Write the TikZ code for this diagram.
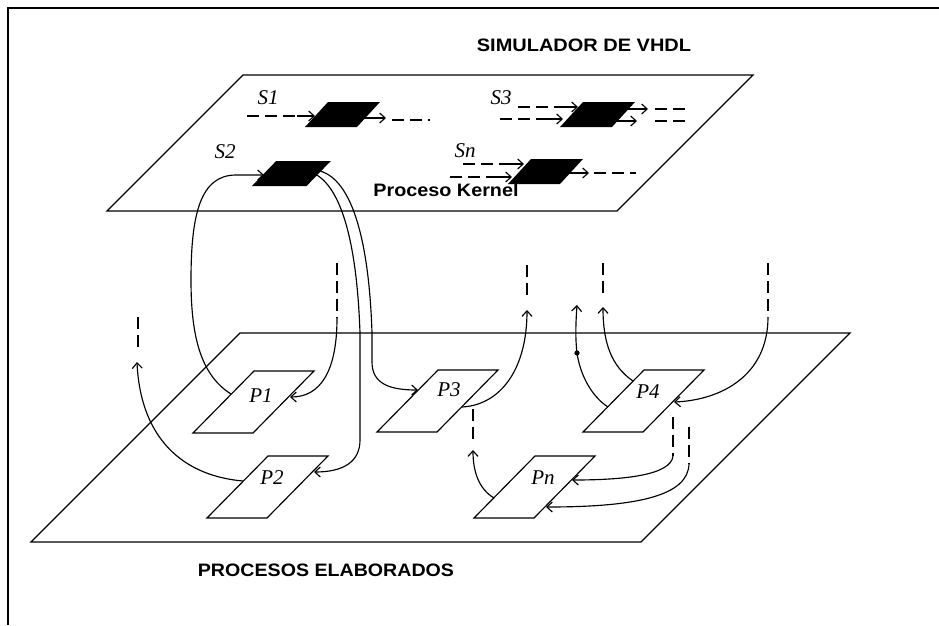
\documentclass[tikz,border=0pt]{standalone}
\usepackage{fontspec}
\setmainfont{Liberation Serif}
\newfontfamily\hel{Liberation Sans}
\usetikzlibrary{arrows.meta}
\begin{document}
\begin{tikzpicture}[x=1pt,y=-1pt,line width=1.15pt,line join=miter,
  >={Straight Barb[length=5.5pt,width=10pt]},
  dsh/.style={dash pattern=on 12pt off 6pt},
  lbl/.style={font=\fontsize{21}{21}\selectfont\itshape,inner sep=0pt},
  ttl/.style={font=\hel\bfseries\fontsize{18}{18}\selectfont,inner sep=0pt},
  plane/.style={line width=1.3pt},
  blkp/.pic={\fill (0,0) -- (52,0) -- (75,-25) -- (23,-25) -- cycle;},
  pbox/.pic={\draw (0,0) -- (60,0) -- (121,-62) -- (61,-62) -- cycle;}]
\useasboundingbox (0,0) rectangle (939,625);
% frame
\draw[line width=2pt] (8,625) -- (8,8) -- (939,8);
% titles
\node[ttl] (sim) at (584,45) {\scalebox{1.11}[1]{SIMULADOR DE VHDL}};
\node[ttl] (proc) at (326,570) {\scalebox{1.09}[1]{PROCESOS ELABORADOS}};
% planes
\draw[plane] (243,75) -- (753,75) -- (617,211) -- (107,211) -- cycle;
\draw[plane] (240,333) -- (850,333) -- (641,542) -- (31,542) -- cycle;
\node[ttl] (kern) at (446,190) {\scalebox{1.1}[1]{Proceso Kernel}};
% signal blocks
\pic at (305,127) {blkp};
\pic[xscale=1.05] at (252,186) {blkp};
\pic at (560,127) {blkp};
\pic at (508,184) {blkp};
\node[lbl] (S1) at (268,98) {S1};
\node[lbl] (S2) at (225,152) {S2};
\node[lbl] (S3) at (501,98) {S3};
\node[lbl] (Sn) at (465,151) {Sn};
% process boxes
\pic at (193,433) {pbox};
\pic at (207,518) {pbox};
\pic at (377,432) {pbox};
\pic at (583,432) {pbox};
\pic at (474,518) {pbox};
\node[lbl] (P1) at (261,396) {P1};
\node[lbl] (P2) at (272,478) {P2};
\node[lbl] (P3) at (449,390) {P3};
\node[lbl] (P4) at (648,392) {P4};
\node[lbl] (Pn) at (543,478) {Pn};
% coordinates
\coordinate (s1a) at (247,116); \coordinate (s1b) at (297,116); \coordinate (s1c) at (315,116);
\coordinate (s1d) at (358,118); \coordinate (s1e) at (386,118);
\coordinate (s1f) at (392,120); \coordinate (s1g) at (430,120);
\coordinate (s3a) at (518,107); \coordinate (s3b) at (564,107); \coordinate (s3c) at (578,107);
\coordinate (s3d) at (500,119); \coordinate (s3e) at (548,119); \coordinate (s3f) at (563,119);
\coordinate (s3g) at (628,109); \coordinate (s3h) at (648,109); \coordinate (s3i) at (655,109); \coordinate (s3j) at (690,109);
\coordinate (s3k) at (613,121); \coordinate (s3l) at (637,121); \coordinate (s3m) at (655,121); \coordinate (s3o) at (690,121);
\coordinate (sna) at (463,164); \coordinate (snb) at (510,164); \coordinate (snc) at (524,164);
\coordinate (snd) at (450,177); \coordinate (sne) at (498,177); \coordinate (snf) at (512,177);
\coordinate (sng) at (568,173); \coordinate (snh) at (589,173); \coordinate (sni) at (594,173); \coordinate (snj) at (636,173);
\coordinate (s2in) at (264,175);
\coordinate (s2o1) at (313,173); \coordinate (s2o2) at (320,171);
\coordinate (p1l) at (231,394); \coordinate (p1r) at (290,397);
\coordinate (p2l) at (243,481); \coordinate (p2r) at (314,472);
\coordinate (p3l) at (418,390); \coordinate (p3r) at (462,407);
\coordinate (p4a) at (633,381); \coordinate (p4b) at (608,407); \coordinate (p4r) at (674,402);
\coordinate (pnl) at (494,498); \coordinate (pnr1) at (572,480); \coordinate (pnr2) at (546,507);
\coordinate (d1a) at (337,263); \coordinate (d1b) at (337,318);
\coordinate (d2a) at (138,317); \coordinate (d2b) at (138,352); \coordinate (d2t) at (137,362);
\coordinate (d3a) at (527,265); \coordinate (d3b) at (527,300); \coordinate (d3t) at (527,310);
\coordinate (d4a) at (473,409); \coordinate (d4b) at (473,443); \coordinate (d4t) at (473,450);
\coordinate (d5t) at (577,305); \coordinate (dot) at (577,353);
\coordinate (d6a) at (603,263); \coordinate (d6b) at (603,297); \coordinate (d6t) at (603,307);
\coordinate (d7a) at (768,263); \coordinate (d7b) at (768,317);
\coordinate (d8a) at (673,417); \coordinate (d8b) at (673,456);
\coordinate (d9a) at (689,427); \coordinate (d9b) at (689,464);
% top plane signal arrows
\draw[dsh] (s1a) -- (s1b); \draw[->] (s1b) -- (s1c);
\draw[->] (s1d) -- (s1e); \draw[dsh] (s1f) -- (s1g);
\draw[dsh] (s3a) -- (s3b); \draw[->] (s3b) -- (s3c);
\draw[dsh] (s3d) -- (s3e); \draw[->] (s3e) -- (s3f);
\draw[->] (s3g) -- (s3h); \draw[dsh] (s3i) -- (s3j);
\draw[->] (s3k) -- (s3l); \draw[dsh] (s3m) -- (s3o);
\draw[dsh] (sna) -- (snb); \draw[->] (snb) -- (snc);
\draw[dsh] (snd) -- (sne); \draw[->] (sne) -- (snf);
\draw[->] (sng) -- (snh); \draw[dsh] (sni) -- (snj);
% P1 -> S2 loop
\draw[->] (p1l) .. controls (199,374) and (191,332) .. (191,280)
  .. controls (191,215) and (200,175) .. (236,175) -- (s2in);
% S2 -> P2
\draw[->] (s2o1) .. controls (342,186) and (357,245) .. (360,333) -- (360,440)
  .. controls (360,462) and (343,472) .. (p2r);
% S2 -> P3
\draw[->] (s2o2) .. controls (352,180) and (369,240) .. (372,333) -- (372,362)
  .. controls (372,384) and (390,390) .. (p3l);
% dashed -> P1
\draw[dsh] (d1a) -- (d1b);
\draw[->] (d1b) .. controls (337,372) and (320,397) .. (p1r);
% P2 -> up left
\draw[dsh] (d2a) -- (d2b);
\draw[->] (p2l) .. controls (175,475) and (140,430) .. (d2t);
% P3 -> up
\draw[dsh] (d3a) -- (d3b);
\draw[->] (p3r) .. controls (500,405) and (527,370) .. (d3t);
% Pn -> up (dashed to P3)
\draw[dsh] (d4a) -- (d4b);
\draw[->] (pnl) .. controls (479,489) and (473,472) .. (d4t);
% P4 -> up (with dot)
\draw[->] (p4b) .. controls (591,396) and (580,374) .. (dot)
  .. controls (575,336) and (576,320) .. (d5t);
\fill (dot) circle (2.6pt);
% P4 -> up (dashed)
\draw[dsh] (d6a) -- (d6b);
\draw[->] (p4a) .. controls (611,366) and (603,342) .. (d6t);
% dashed -> P4
\draw[dsh] (d7a) -- (d7b);
\draw[->] (d7b) .. controls (768,375) and (722,400) .. (p4r);
% dashed -> Pn
\draw[dsh] (d8a) -- (d8b);
\draw[->] (d8b) .. controls (671,475) and (625,480) .. (pnr1);
\draw[dsh] (d9a) -- (d9b);
\draw[->] (d9b) .. controls (688,495) and (640,507) .. (pnr2);
\end{tikzpicture}
\end{document}
